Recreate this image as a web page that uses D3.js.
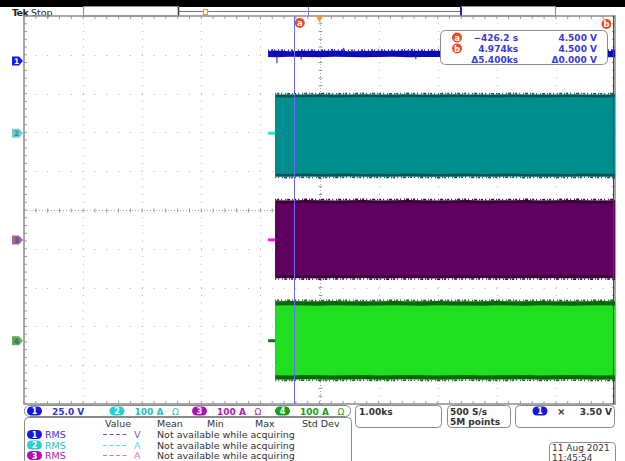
<!DOCTYPE html>
<html><head><meta charset="utf-8">
<script src="https://cdn.jsdelivr.net/npm/d3@7"></script>
<style>
body{margin:0;background:#fff}
svg{display:block}
text{font-family:"DejaVu Sans",sans-serif}
</style>
</head><body>
<svg id="scope" width="625" height="461"></svg>
<script>
// ---- Acquisition settings ----
const timeDomain = [-5000, 5000];          // s, 1.00 ks/div over 10 divisions
const divDomain = [-5, 5];                 // vertical divisions
const channelIds = ["1", "2", "3", "4"];
const channelPerDiv = [25, 100, 100, 100]; // V/div, A/div
const channelScaleText = ["25.0 V", "100 A", "100 A", "100 A"];
const channelOffsetDiv = [3.84, 1.98, -0.77, -3.37];

// ---- Channel 1: supply voltage (V) ----
const ch1Times = [-870, -750, -500, -250, 0, 250, 500, 750, 1000, 1250, 1500, 1750, 2000, 2250, 2500, 2750, 3000, 3250, 3500, 3750, 4000, 4250, 4500, 4750, 5000];
const ch1Upper = [6.4, 6.7, 6.3, 6.6, 6.4, 6.7, 6.3, 6.5, 6.6, 6.4, 6.7, 6.4, 6.6, 6.3, 6.6, 6.5, 6.4, 6.7, 6.5, 6.4, 6.6, 6.7, 6.4, 6.5, 6.5];
const ch1Lower = [2.6, 2.5, 2.7, 2.6, 2.5, 2.7, 2.6, 2.5, 2.6, 2.7, 2.5, 2.6, 2.6, 2.5, 2.7, 2.6, 2.5, 2.6, 2.7, 2.5, 2.6, 2.6, 2.7, 2.5, 2.5];
// short glitches on ch1 (time s, extreme V)
const ch1GlitchTimes = [-720, -310, 410, 1630, 2880, 3720];
const ch1GlitchValues = [-1.5, 1.0, 8.5, 1.2, 8.2, 1.4];

// ---- Channels 2-4: load currents (A) ----
const preStartTimes = [-870, -750];
const envTimes = [-750, -500, -250, 0, 250, 500, 750, 1000, 1250, 1500, 1750, 2000, 2250, 2500, 2750, 3000, 3250, 3500, 3750, 4000, 4250, 4500, 4750, 5000];
const ch2Upper = [100, 99.5, 100, 100.5, 99.5, 100, 100.5, 100, 99.5, 100.5, 100, 99.5, 100.5, 100, 100, 99.5, 100.5, 100, 99.5, 100, 100.5, 100, 99.5, 100];
const ch2Lower = [-112, -112.5, -111.5, -112.5, -112, -111.5, -112.5, -112, -112.5, -111.5, -112, -112.5, -112, -111.5, -112.5, -112, -111.5, -112.5, -112, -112, -112.5, -111.5, -112, -112];
const ch3Upper = [102, 101.5, 102.5, 102, 101.5, 102, 102.5, 101.5, 102, 102.5, 102, 101.5, 102, 102.5, 101.5, 102, 102, 102.5, 101.5, 102, 102.5, 102, 101.5, 102];
const ch3Lower = [-99, -98.5, -99, -99.5, -98.5, -99, -98.5, -99.5, -99, -98.5, -99, -99.5, -98.5, -99, -98.5, -99, -99.5, -98.5, -99, -98.5, -99, -99.5, -98.5, -99];
const ch4Upper = [102, 102.5, 102, 101.5, 102.5, 102, 101.5, 102, 102.5, 102, 101.5, 102.5, 102, 102, 101.5, 102.5, 102, 101.5, 102.5, 102, 101.5, 102, 102.5, 102];
const ch4Lower = [-100, -100.5, -99.5, -100, -100.5, -100, -99.5, -100.5, -100, -99.5, -100, -100.5, -100, -99.5, -100.5, -100, -100, -99.5, -100.5, -100, -99.5, -100, -100.5, -100];

// ---- Cursors ----
const cursorA = {t: -426.2, v: 4.5};
const cursorB = {t: 4974, v: 4.5};
const cursorText = [["a", "\u2212426.2 s", "4.500 V"], ["b", "4.974ks", "4.500 V"], ["", "\u03945.400ks", "\u03940.000 V"]];
const triggerTime = 0;

// ---- Readouts ----
const measHeaders = ["Value", "Mean", "Min", "Max", "Std Dev"];
const measRows = [["1", "RMS", "V"], ["2", "RMS", "A"], ["3", "RMS", "A"]];
const measMessage = "Not available while acquiring";
const timebaseText = "1.00ks";
const sampleText = ["500 S/s", "5M points"];
const triggerText = {src: "1", level: "3.50 V"};
const dateText = ["11 Aug 2021", "11:45:54"];

// ---- Styling ----
const pillColors = ["#1616e0", "#22d2d2", "#b010b0", "#16a016"];
const markerColors = ["#1a1ae8", "#6ecfcf", "#a46aa4", "#5fab5f"];
const textColors = ["#3434e2", "#20c4c4", "#b020b0", "#18a018"];
const dashColors = ["#5a5aee", "#5adcdc", "#e070e0", "#40b040"];
const bodyColors = [null, "#008d8d", "#5f005f", "#20df20"];
const edgeColors = [null, "#005656", "#3a003a", "#0a640a"];
const stubColors = [null, "#10e6e6", "#ff10ff", "#0c7a0c"];

const svg = d3.select("#scope");
const L = 24, R = 615, T = 16, B = 404;
const x = d3.scaleLinear().domain(timeDomain).range([L, R]);
const yDiv = d3.scaleLinear().domain(divDomain).range([B, T]);
const yCh = i => v => yDiv(channelOffsetDiv[i] + v / channelPerDiv[i]);

// ---- Header ----
svg.append("rect").attr("x", 0).attr("y", 0).attr("width", 625).attr("height", 7).attr("fill", "#000");
svg.append("text").attr("x", 12).attr("y", 15.5).attr("font-size", 9.5).attr("font-weight", "bold").attr("letter-spacing", -0.6).attr("fill", "#222").text("Tek");
svg.append("text").attr("x", 31).attr("y", 15.5).attr("font-size", 9.5).attr("fill", "#222").text("Stop");
svg.append("rect").attr("x", 83.5).attr("y", 6.5).attr("width", 95).attr("height", 9.5).attr("fill", "none").attr("stroke", "#8a8a8a");
svg.append("rect").attr("x", 461.5).attr("y", 6.5).attr("width", 94).attr("height", 9.5).attr("fill", "none").attr("stroke", "#8a8a8a");
svg.append("line").attr("x1", 178).attr("x2", 461).attr("y1", 11.5).attr("y2", 11.5).attr("stroke", "#6a6ae8");
svg.append("line").attr("x1", 178.5).attr("x2", 178.5).attr("y1", 7).attr("y2", 16).attr("stroke", "#333").attr("stroke-width", 1.5);
svg.append("line").attr("x1", 461).attr("x2", 461).attr("y1", 7).attr("y2", 16).attr("stroke", "#2020c0").attr("stroke-width", 2);
svg.append("line").attr("x1", 308.5).attr("x2", 308.5).attr("y1", 7).attr("y2", 16).attr("stroke", "#8080f0");
svg.append("rect").attr("x", 203.5).attr("y", 9.5).attr("width", 4).attr("height", 5).attr("fill", "#fff").attr("stroke", "#f0a020").attr("stroke-width", 1.2);

// ---- Graticule ----
const g = svg.append("g");
const minor = d3.range(0, 50.01, 1).map(k => -5 + k * 0.2);
const majors = d3.range(-4, 5).filter(d => d !== 0);
majors.forEach(d => {
  const px = Math.round(L + (d + 5) * (R - L) / 10) + 0.5;
  minor.forEach(m => g.append("rect").attr("x", px - 0.5).attr("y", yDiv(m) - 0.5).attr("width", 1).attr("height", 1).attr("fill", "#b0b0b0"));
  const py = Math.round(yDiv(d)) + 0.5;
  minor.forEach(m => g.append("rect").attr("x", L + (m + 5) * (R - L) / 10 - 0.5).attr("y", py - 0.5).attr("width", 1).attr("height", 1).attr("fill", "#b0b0b0"));
});
const cx = Math.round((L + R) / 2) + 0.5, cy = Math.round(yDiv(0)) + 0.5;
g.append("line").attr("x1", L).attr("x2", R).attr("y1", cy).attr("y2", cy).attr("stroke", "#a8a8a8").attr("stroke-dasharray", "1,2");
g.append("line").attr("x1", cx).attr("x2", cx).attr("y1", T).attr("y2", B).attr("stroke", "#a8a8a8").attr("stroke-dasharray", "1,2");
minor.forEach(m => {
  const px = L + (m + 5) * (R - L) / 10;
  g.append("line").attr("x1", px).attr("x2", px).attr("y1", cy - 2).attr("y2", cy + 2).attr("stroke", "#999");
  g.append("line").attr("x1", px).attr("x2", px).attr("y1", T).attr("y2", T + 3).attr("stroke", "#999");
  g.append("line").attr("x1", px).attr("x2", px).attr("y1", B - 3).attr("y2", B).attr("stroke", "#999");
  const py = yDiv(m);
  g.append("line").attr("y1", py).attr("y2", py).attr("x1", cx - 2).attr("x2", cx + 2).attr("stroke", "#999");
  g.append("line").attr("y1", py).attr("y2", py).attr("x1", L).attr("x2", L + 3).attr("stroke", "#999");
  g.append("line").attr("y1", py).attr("y2", py).attr("x1", R - 3).attr("x2", R).attr("stroke", "#999");
});
g.append("rect").attr("x", L).attr("y", T).attr("width", R - L).attr("height", B - T).attr("fill", "none").attr("stroke", "#8c8c8c").attr("stroke-width", 1.5);

// ---- Waveforms ----
const traces = svg.append("g");
// Ch1 band plus glitches
{
  const y1 = yCh(0);
  const pts = ch1Times.map((t, k) => ({t, hi: ch1Upper[k], lo: ch1Lower[k]}));
  traces.append("path").datum(pts)
    .attr("d", d3.area().curve(d3.curveLinear).x(d => x(d.t)).y0(d => y1(d.lo)).y1(d => y1(d.hi)))
    .attr("fill", "#0c0cb4");
  traces.append("path").datum(pts)
    .attr("d", d3.line().x(d => x(d.t)).y(d => y1(d.hi) - 0.8))
    .attr("fill", "none").attr("stroke", "#2a2ac8").attr("stroke-width", 1.6).attr("stroke-dasharray", "1,2,2,1,1,3");
  traces.selectAll(".glitch").data(ch1GlitchTimes.map((t, k) => ({t, v: ch1GlitchValues[k]}))).join("line")
    .attr("x1", d => x(d.t)).attr("x2", d => x(d.t))
    .attr("y1", y1(4.5)).attr("y2", d => y1(d.v))
    .attr("stroke", "#1818b8").attr("stroke-width", 1);
}
// Ch2-4 bands
const env = [null, [ch2Upper, ch2Lower], [ch3Upper, ch3Lower], [ch4Upper, ch4Lower]];
const noiseDash = "1,1,2,2,1,3,1,1,3,2";
[1, 2, 3].forEach(i => {
  const yc = yCh(i);
  const pts = envTimes.map((t, k) => ({t, hi: env[i][0][k], lo: env[i][1][k]}));
  const edge = channelPerDiv[i] * (i === 3 ? 0.11 : 0.075);
  traces.append("path").datum(pts)
    .attr("d", d3.area().x(d => x(d.t)).y0(d => yc(d.lo)).y1(d => yc(d.hi)))
    .attr("fill", edgeColors[i]);
  traces.append("path").datum(pts)
    .attr("d", d3.area().x(d => x(d.t)).y0(d => yc(d.lo + edge)).y1(d => yc(d.hi - edge)))
    .attr("fill", bodyColors[i]);
  // ragged outline of the envelope
  traces.append("path").datum(pts)
    .attr("d", d3.line().x(d => x(d.t)).y(d => yc(d.hi) - 0.8))
    .attr("fill", "none").attr("stroke", edgeColors[i]).attr("stroke-width", 1.6).attr("stroke-dasharray", noiseDash);
  traces.append("path").datum(pts)
    .attr("d", d3.line().x(d => x(d.t)).y(d => yc(d.lo) + 0.8))
    .attr("fill", "none").attr("stroke", edgeColors[i]).attr("stroke-width", 1.6).attr("stroke-dasharray", noiseDash).attr("stroke-dashoffset", 3);
  traces.append("path").datum(preStartTimes.map(t => ({t, v: 0})))
    .attr("d", d3.line().x(d => x(d.t)).y(d => yc(d.v)))
    .attr("stroke", stubColors[i]).attr("stroke-width", 3).attr("fill", "none");
});

// ---- Cursors ----
[cursorA, cursorB].forEach((c, k) => {
  svg.append("line").attr("x1", Math.round(x(c.t)) + 0.5).attr("x2", Math.round(x(c.t)) + 0.5)
    .attr("y1", T).attr("y2", B).attr("stroke", k ? "#3030f0" : "#6a6aff").attr("stroke-width", 1);
});
const badge = (px, py, letter) => {
  svg.append("circle").attr("cx", px).attr("cy", py).attr("r", 5).attr("fill", "#f04818");
  svg.append("text").attr("x", px).attr("y", py + 3).attr("text-anchor", "middle").attr("font-size", 8.5).attr("font-weight", "bold").attr("fill", "#fff").text(letter);
};
badge(x(cursorA.t) + 5.5, 23, "a");
badge(x(cursorB.t) - 7, 24, "b");
svg.append("path").attr("d", d3.symbol(d3.symbolTriangle, 22)()).attr("transform", `translate(${x(triggerTime)},18.5) rotate(180)`).attr("fill", "#f5a020");

svg.append("rect").attr("x", 440.5).attr("y", 30.5).attr("width", 167).attr("height", 34).attr("rx", 5).attr("fill", "#fff").attr("stroke", "#8a8a8a");
cursorText.forEach((row, k) => {
  const by = 41 + k * 11;
  if (row[0]) badge(457, by - 3.5, row[0]);
  svg.append("text").attr("x", 518).attr("y", by).attr("text-anchor", "end").attr("font-size", 9).attr("font-weight", "bold").attr("fill", "#3a3ae0").text(row[1]);
  svg.append("text").attr("x", 597).attr("y", by).attr("text-anchor", "end").attr("font-size", 9).attr("font-weight", "bold").attr("fill", "#3a3ae0").text(row[2]);
});

// ---- Channel ground markers ----
channelIds.forEach((id, i) => {
  const py = yCh(i)(0);
  svg.append("path").attr("d", `M12,${py - 4.5} h7 l4,4.5 l-4,4.5 h-7 z`).attr("fill", markerColors[i]);
  svg.append("text").attr("x", 16.5).attr("y", py + 3).attr("text-anchor", "middle").attr("font-size", 7.5).attr("font-weight", "bold")
    .attr("fill", i ? d3.color(markerColors[i]).darker(1.2) : "#fff").text(id);
});

// ---- Bottom readouts ----
const pill = (cx0, cy0, i, id) => {
  svg.append("rect").attr("x", cx0 - 7.5).attr("y", cy0 - 4.5).attr("width", 15).attr("height", 9).attr("rx", 4.5).attr("fill", pillColors[i]);
  svg.append("text").attr("x", cx0).attr("y", cy0 + 3).attr("text-anchor", "middle").attr("font-size", 8).attr("font-weight", "bold").attr("fill", "#fff").text(id);
};
svg.append("rect").attr("x", 24.5).attr("y", 405.5).attr("width", 326).attr("height", 11).attr("rx", 5).attr("fill", "#fff").attr("stroke", "#8a8a8a");
const chX = [34.5, 117, 199.5, 282.5];
channelIds.forEach((id, i) => {
  pill(chX[i], 411, i, id);
  svg.append("text").attr("x", chX[i] + 17.5).attr("y", 414.5).attr("font-size", 9).attr("font-weight", "bold").attr("fill", textColors[i]).text(channelScaleText[i]);
  if (i) svg.append("text").attr("x", chX[i] + 55).attr("y", 414.5).attr("font-size", 9).attr("fill", textColors[i]).text("\u03a9");
});

const box = (bx, by, bw, bh) => svg.append("rect").attr("x", bx + 0.5).attr("y", by + 0.5).attr("width", bw).attr("height", bh).attr("rx", 4).attr("fill", "#fff").attr("stroke", "#8a8a8a");
box(355, 405, 86, 22);
svg.append("text").attr("x", 359).attr("y", 414.5).attr("font-size", 9).attr("font-weight", "bold").attr("fill", "#333").text(timebaseText);
box(447, 405, 63, 22);
sampleText.forEach((s, k) => svg.append("text").attr("x", 450).attr("y", 414.5 + k * 10).attr("font-size", 9).attr("font-weight", "bold").attr("fill", "#333").text(s));
box(515, 405, 99, 22);
pill(540, 411, 0, triggerText.src);
svg.append("text").attr("x", 557).attr("y", 415).attr("font-size", 10).attr("font-weight", "bold").attr("fill", "#333").text("\u2A2F");
svg.append("text").attr("x", 612).attr("y", 414.5).attr("text-anchor", "end").attr("font-size", 9).attr("font-weight", "bold").attr("fill", "#333").text(triggerText.level);

box(24, 417, 327, 50);
const headX = [105, 157, 207, 255, 302];
measHeaders.forEach((h, k) => svg.append("text").attr("x", headX[k]).attr("y", 427).attr("font-size", 9.5).attr("fill", "#333").text(h));
measRows.forEach((r, k) => {
  const by = 438 + k * 10.5;
  const i = +r[0] - 1;
  const ly = Math.round(by - 4) + 0.5;
  pill(34.5, by - 3.5, i, r[0]);
  svg.append("text").attr("x", 45).attr("y", by).attr("font-size", 9.5).attr("fill", textColors[i]).text(r[1]);
  svg.append("line").attr("x1", 103).attr("x2", 129).attr("y1", ly).attr("y2", ly).attr("stroke", dashColors[i]).attr("stroke-dasharray", "4,2.5");
  svg.append("text").attr("x", 134).attr("y", by).attr("font-size", 9.5).attr("fill", dashColors[i]).text(r[2]);
  svg.append("text").attr("x", 157).attr("y", by).attr("font-size", 9.5).attr("fill", "#333").text(measMessage);
});

box(549, 442, 66, 25);
dateText.forEach((s, k) => svg.append("text").attr("x", 552).attr("y", 451 + k * 9.5).attr("font-size", 9).attr("fill", "#333").text(s));
</script>
</body></html>
